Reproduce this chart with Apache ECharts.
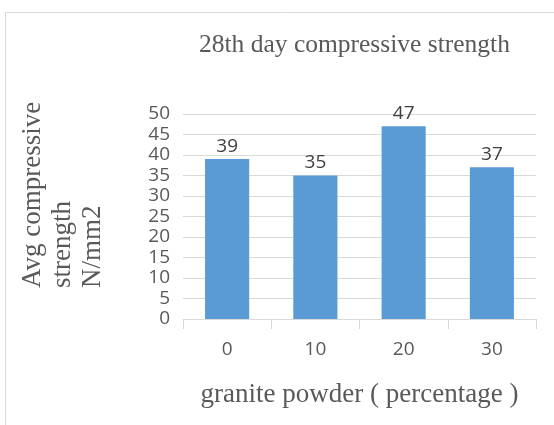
<!DOCTYPE html>
<html>
<head>
<meta charset="utf-8">
<script src="https://cdn.jsdelivr.net/npm/echarts@6/dist/echarts.min.js"></script>
<style>
  html, body { margin: 0; padding: 0; background: #fff; }
  #chart { width: 554px; height: 425px; }
</style>
</head>
<body>
<div id="chart"></div>
<script>
var myChart = echarts.init(document.getElementById('chart'));

// granite powder percentage
var categories = ['0', '10', '20', '30'];
// 28th day average compressive strength N/mm2
var strength = [39, 35, 47, 37];

var serif = '"Liberation Serif", "Times New Roman", serif';
var sans = '"Open Sans", "DejaVu Sans", sans-serif';

var option = {
    animation: false,
    backgroundColor: '#fff',
    title: {
        text: '28th day compressive strength',
        left: 194,
        top: 27,
        textStyle: {
            fontFamily: serif,
            fontWeight: 'normal',
            fontSize: 25.5,
            color: '#595959'
        }
    },
    graphic: [{
        type: 'rect',
        shape: { x: 5.5, y: 12.5, width: 600, height: 500 },
        style: { fill: 'none', stroke: '#d9d9d9', lineWidth: 1 },
        silent: true
    }, {
        // y axis title, three lines read bottom to top
        type: 'text',
        x: 18,
        y: 288,
        rotation: Math.PI / 2,
        style: {
            text: 'Avg compressive\nstrength\nN/mm2',
            fontFamily: serif,
            fontSize: 27,
            lineHeight: 30,
            fill: '#595959',
            align: 'left',
            verticalAlign: 'top'
        },
        silent: true
    }],
    grid: {
        left: 183,
        right: 18,
        top: 114,
        bottom: 106,
        outerBoundsMode: 'none',
        containLabel: false
    },
    xAxis: {
        type: 'category',
        data: categories,
        name: 'granite powder ( percentage )',
        nameLocation: 'middle',
        nameGap: 62,
        nameTextStyle: {
            fontFamily: serif,
            fontSize: 27,
            color: '#595959'
        },
        axisLine: { lineStyle: { color: '#d9d9d9', width: 1 } },
        axisTick: { show: true, length: 10, lineStyle: { color: '#d9d9d9' } },
        axisLabel: {
            fontFamily: sans,
            fontSize: 19,
            color: '#595959',
            margin: 21
        }
    },
    yAxis: {
        type: 'value',
        min: 0,
        max: 50,
        interval: 5,
        axisLine: { show: false },
        axisTick: { show: false },
        splitLine: { lineStyle: { color: '#d9d9d9', width: 1 } },
        axisLabel: {
            fontFamily: sans,
            fontSize: 19,
            color: '#595959',
            margin: 13
        }
    },
    series: [{
        type: 'bar',
        data: strength,
        barWidth: '50%',
        itemStyle: { color: '#5b9bd5' },
        label: {
            show: true,
            position: 'top',
            distance: 3,
            fontFamily: sans,
            fontSize: 19,
            color: '#404040'
        }
    }]
};

myChart.setOption(option);
</script>
</body>
</html>
